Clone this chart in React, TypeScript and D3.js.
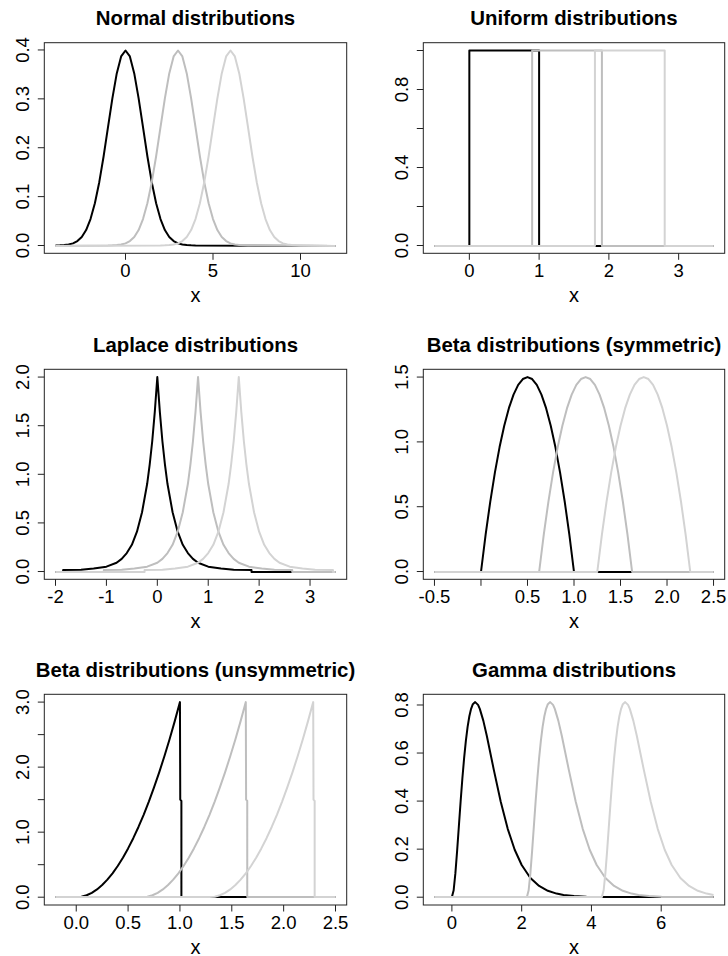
import React from "react";
import * as d3 from "d3";

// ---------- data ----------
const titles = [
  "Normal distributions",
  "Uniform distributions",
  "Laplace distributions",
  "Beta distributions (symmetric)",
  "Beta distributions (unsymmetric)",
  "Gamma distributions",
];

const seriesColors = ["#000000", "#bebebe", "#d3d3d3"];

// Normal
const normalRange = [-4, 12];
const normalShifts = [0, 3, 6];
const normalX = [-4, -3.75, -3.5, -3.25, -3, -2.75, -2.5, -2.25, -2, -1.75, -1.5, -1.25, -1, -0.75, -0.5, -0.25, 0,
  0.25, 0.5, 0.75, 1, 1.25, 1.5, 1.75, 2, 2.25, 2.5, 2.75, 3, 3.25, 3.5, 3.75, 4];
const normalY = [0.0001, 0.0004, 0.0009, 0.002, 0.0044, 0.0091, 0.0175, 0.0317, 0.054, 0.0863, 0.1295, 0.1826, 0.242, 0.3011, 0.3521, 0.3867, 0.3989,
  0.3867, 0.3521, 0.3011, 0.242, 0.1826, 0.1295, 0.0863, 0.054, 0.0317, 0.0175, 0.0091, 0.0044, 0.002, 0.0009, 0.0004, 0.0001];
const normalXTicks = [0, 5, 10];
const normalXLabels = ["0", "5", "10"];
const normalYTicks = [0, 0.1, 0.2, 0.3, 0.4];
const normalYLabels = ["0.0", "0.1", "0.2", "0.3", "0.4"];

// Uniform
const uniformRange = [-0.5, 3.5];
const uniformShifts = [0, 0.9, 1.8];
const uniformX = [0, 0, 1, 1];
const uniformY = [0, 1, 1, 0];
const uniformXTicks = [0, 1, 2, 3];
const uniformXLabels = ["0", "1", "2", "3"];
const uniformYTicks = [0, 0.2, 0.4, 0.6, 0.8, 1.0];
const uniformYLabels = ["0.0", "", "0.4", "", "0.8", ""];

// Laplace
const laplaceRange = [-2, 3.5];
const laplaceShifts = [0, 0.8, 1.6];
const laplaceX = [-1.85, -1.85, -1.5, -1.25, -1, -0.8, -0.7, -0.6, -0.5, -0.4, -0.3, -0.2, -0.15, -0.1, -0.05, 0,
  0.05, 0.1, 0.15, 0.2, 0.3, 0.4, 0.5, 0.6, 0.7, 0.8, 1, 1.25, 1.5, 1.85, 1.85];
const laplaceY = [0, 0.016, 0.019, 0.03, 0.05, 0.09, 0.13, 0.19, 0.275, 0.41, 0.61, 0.9, 1.1, 1.34, 1.64, 2.0,
  1.64, 1.34, 1.1, 0.9, 0.61, 0.41, 0.275, 0.19, 0.13, 0.09, 0.05, 0.03, 0.019, 0.016, 0];
const laplaceXTicks = [-2, -1, 0, 1, 2, 3];
const laplaceXLabels = ["-2", "-1", "0", "1", "2", "3"];
const laplaceYTicks = [0, 0.5, 1, 1.5, 2];
const laplaceYLabels = ["0.0", "0.5", "1.0", "1.5", "2.0"];

// Beta symmetric
const betaSymRange = [-0.5, 2.5];
const betaSymShifts = [0, 0.625, 1.25];
const betaSymX = [0, 0.05, 0.1, 0.15, 0.2, 0.25, 0.3, 0.35, 0.4, 0.45, 0.5, 0.55, 0.6, 0.65, 0.7, 0.75, 0.8, 0.85, 0.9, 0.95, 1];
const betaSymY = [0, 0.285, 0.54, 0.765, 0.96, 1.125, 1.26, 1.365, 1.44, 1.485, 1.5, 1.485, 1.44, 1.365, 1.26, 1.125, 0.96, 0.765, 0.54, 0.285, 0];
const betaSymXTicks = [-0.5, 0, 0.5, 1, 1.5, 2, 2.5];
const betaSymXLabels = ["-0.5", "", "0.5", "1.0", "1.5", "2.0", "2.5"];
const betaSymYTicks = [0, 0.5, 1, 1.5];
const betaSymYLabels = ["0.0", "0.5", "1.0", "1.5"];

// Beta unsymmetric
const betaUnsRange = [-0.2, 2.5];
const betaUnsShifts = [0, 0.635, 1.285];
const betaUnsX = [0, 0.05, 0.1, 0.15, 0.2, 0.25, 0.3, 0.35, 0.4, 0.45, 0.5, 0.55, 0.6, 0.65, 0.7, 0.75, 0.8, 0.85, 0.9, 0.95, 1.0, 1.003, 1.014, 1.014];
const betaUnsY = [0, 0.0075, 0.03, 0.0675, 0.12, 0.1875, 0.27, 0.3675, 0.48, 0.6075, 0.75, 0.9075, 1.08, 1.2675, 1.47, 1.6875, 1.92, 2.1675, 2.43, 2.7075, 3.0, 1.5, 1.48, 0];
const betaUnsXTicks = [0, 0.5, 1, 1.5, 2, 2.5];
const betaUnsXLabels = ["0.0", "0.5", "1.0", "1.5", "2.0", "2.5"];
const betaUnsYTicks = [0, 0.5, 1, 1.5, 2, 2.5, 3];
const betaUnsYLabels = ["0.0", "", "1.0", "", "2.0", "", "3.0"];

// Gamma
const gammaRange = [-0.5, 7.5];
const gammaShifts = [0, 2.15, 4.3];
const gammaX = [0, 0.05, 0.1, 0.15, 0.2, 0.25, 0.3, 0.35, 0.4, 0.45, 0.5, 0.55, 0.6, 0.667, 0.75, 0.8, 0.9, 1.0, 1.2, 1.4, 1.6, 1.8, 2.0, 2.25, 2.5, 2.75, 3.0, 3.2, 3.5, 3.85, 3.86];
const gammaY = [0, 0.029, 0.1, 0.1937, 0.2964, 0.3986, 0.494, 0.5787, 0.6506, 0.7086, 0.753, 0.7841, 0.8034, 0.812, 0.8004, 0.7838, 0.7349, 0.6721, 0.5311, 0.3969, 0.2844, 0.1976, 0.1339, 0.08, 0.0467, 0.0267, 0.015, 0.0094, 0.0045, 0.0019, 0];
const gammaXTicks = [0, 2, 4, 6];
const gammaXLabels = ["0", "2", "4", "6"];
const gammaYTicks = [0, 0.2, 0.4, 0.6, 0.8];
const gammaYLabels = ["0.0", "0.2", "0.4", "0.6", "0.8"];

// ---------- layout ----------
const W = 728;
const H = 956;
const colLeft = [44.3, 423.3];
const colRight = [346.7, 724.7];
const rowTop = [42.7, 369.3, 694.3];
const rowBottom = [253.3, 579.3, 905];
const FONT = "'Liberation Sans', Arial, Helvetica, sans-serif";

type Panel = {
  title: string;
  range: number[];
  shifts: number[];
  sx: number[];
  sy: number[];
  xTicks: number[];
  xLabels: string[];
  yTicks: number[];
  yLabels: string[];
};

const panels: Panel[] = [
  { title: titles[0], range: normalRange, shifts: normalShifts, sx: normalX, sy: normalY, xTicks: normalXTicks, xLabels: normalXLabels, yTicks: normalYTicks, yLabels: normalYLabels },
  { title: titles[1], range: uniformRange, shifts: uniformShifts, sx: uniformX, sy: uniformY, xTicks: uniformXTicks, xLabels: uniformXLabels, yTicks: uniformYTicks, yLabels: uniformYLabels },
  { title: titles[2], range: laplaceRange, shifts: laplaceShifts, sx: laplaceX, sy: laplaceY, xTicks: laplaceXTicks, xLabels: laplaceXLabels, yTicks: laplaceYTicks, yLabels: laplaceYLabels },
  { title: titles[3], range: betaSymRange, shifts: betaSymShifts, sx: betaSymX, sy: betaSymY, xTicks: betaSymXTicks, xLabels: betaSymXLabels, yTicks: betaSymYTicks, yLabels: betaSymYLabels },
  { title: titles[4], range: betaUnsRange, shifts: betaUnsShifts, sx: betaUnsX, sy: betaUnsY, xTicks: betaUnsXTicks, xLabels: betaUnsXLabels, yTicks: betaUnsYTicks, yLabels: betaUnsYLabels },
  { title: titles[5], range: gammaRange, shifts: gammaShifts, sx: gammaX, sy: gammaY, xTicks: gammaXTicks, xLabels: gammaXLabels, yTicks: gammaYTicks, yLabels: gammaYLabels },
];

function curvePoints(sx: number[], sy: number[], shift: number, range: number[]): [number, number][] {
  const pts: [number, number][] = [];
  const xs = sx.map((x) => x + shift);
  if (xs[0] > range[0]) pts.push([range[0], 0]);
  xs.forEach((x, i) => {
    if (x >= range[0] - 1e-9 && x <= range[1] + 1e-9) pts.push([x, sy[i]]);
  });
  if (xs[xs.length - 1] < range[1]) pts.push([range[1], 0]);
  return pts;
}

function PanelView({ p, idx }: { p: Panel; idx: number }) {
  const col = idx % 2;
  const row = Math.floor(idx / 2);
  const L = colLeft[col];
  const R = colRight[col];
  const T = rowTop[row];
  const B = rowBottom[row];
  const [r0, r1] = p.range;
  const dx = (r1 - r0) * 0.04;
  const ymax = d3.max(p.sy) as number;
  const dy = ymax * 0.04;
  const x = d3.scaleLinear().domain([r0 - dx, r1 + dx]).range([L, R]);
  const y = d3.scaleLinear().domain([-dy, ymax + dy]).range([B, T]);
  const y0 = Math.round(y(0));
  const line = d3
    .line<[number, number]>()
    .x((d) => x(d[0]))
    .y((d) => (d[1] === 0 ? y0 : y(d[1])))
    .curve(d3.curveLinear);
  const tick = 6.5;
  return (
    <g>
      <text
        x={(L + R) / 2}
        y={T - 17.3}
        textAnchor="middle"
        fontFamily={FONT}
        fontWeight="bold"
        fontSize={20.4}
        fill="#000"
      >
        {p.title}
      </text>
      {p.shifts.map((s, i) => (
        <path
          key={i}
          d={line(curvePoints(p.sx, p.sy, s, p.range)) || ""}
          fill="none"
          stroke={seriesColors[i]}
          strokeWidth={2}
          strokeLinejoin="round"
        />
      ))}
      <rect x={L} y={T} width={R - L} height={B - T} fill="none" stroke="#222" strokeWidth={1} />
      {p.xTicks.map((t, i) => (
        <g key={"xt" + i}>
          <line x1={x(t)} x2={x(t)} y1={B} y2={B + tick} stroke="#222" strokeWidth={1} />
          {p.xLabels[i] ? (
            <text x={x(t)} y={B + 23.5} textAnchor="middle" fontFamily={FONT} fontSize={18.5} fill="#000">
              {p.xLabels[i]}
            </text>
          ) : null}
        </g>
      ))}
      {p.yTicks.map((t, i) => (
        <g key={"yt" + i}>
          <line x1={L - tick} x2={L} y1={y(t)} y2={y(t)} stroke="#222" strokeWidth={1} />
          {p.yLabels[i] ? (
            <text
              transform={`translate(${L - 15},${y(t)}) rotate(-90)`}
              textAnchor="middle"
              fontFamily={FONT}
              fontSize={18.5}
              fill="#000"
            >
              {p.yLabels[i]}
            </text>
          ) : null}
        </g>
      ))}
      <text x={(L + R) / 2} y={B + 48.5} textAnchor="middle" fontFamily={FONT} fontSize={20} fill="#000">
        x
      </text>
    </g>
  );
}

export default function App() {
  return (
    <svg
      width={W}
      height={H}
      viewBox={`0 0 ${W} ${H}`}
      style={{ position: "absolute", left: 0, top: 0, background: "#fff" }}
    >
      <rect x={0} y={0} width={W} height={H} fill="#fff" />
      {panels.map((p, i) => (
        <PanelView key={i} p={p} idx={i} />
      ))}
    </svg>
  );
}
